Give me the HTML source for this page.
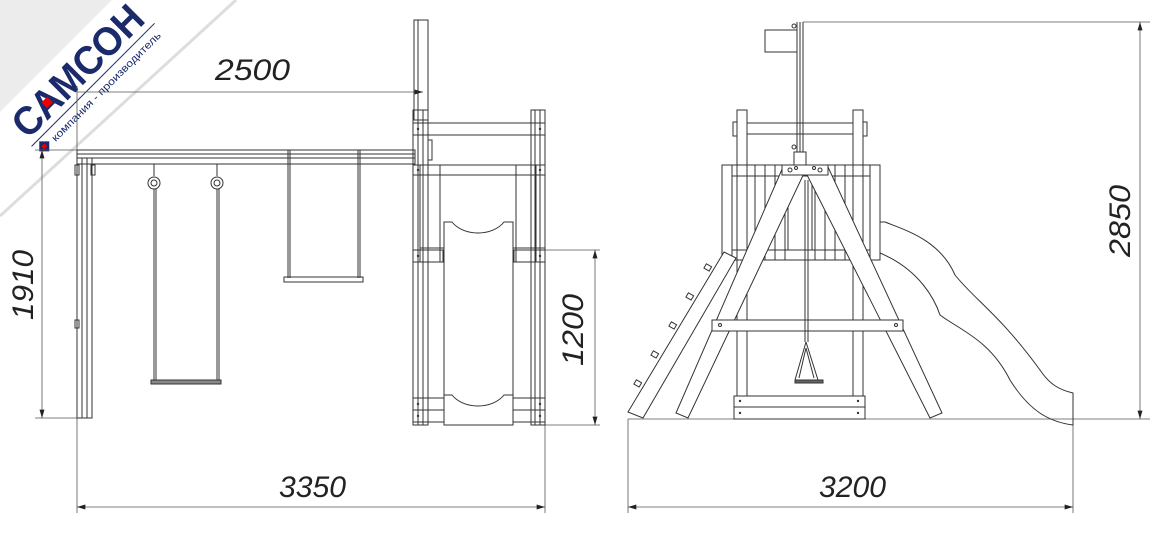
<!DOCTYPE html>
<html><head><meta charset="utf-8"><style>
html,body{margin:0;padding:0;background:#fff;width:1165px;height:537px;overflow:hidden}
svg{display:block}
.d{font-family:"Liberation Sans",sans-serif;font-style:italic;font-size:30px;fill:#222}
</style></head><body>
<svg width="1165" height="537" viewBox="0 0 1165 537" xmlns="http://www.w3.org/2000/svg">
<defs>
<marker id="a" viewBox="0 0 10 6" refX="10" refY="3" markerWidth="14" markerHeight="5" orient="auto-start-reverse" markerUnits="userSpaceOnUse"><path d="M0,0 L10,3 L0,6 z" fill="#222"/></marker>
</defs>
<polygon points="0,0 112,0 0,112" fill="#ececec"/>
<polygon points="112,0 236,0 0,216 0,112" fill="#fff"/>
<line x1="236" y1="0" x2="0" y2="216" stroke="#ddd" stroke-width="3"/>
<g transform="translate(28,140) rotate(-45)">
<text x="0" y="0" font-family="Liberation Sans,sans-serif" font-weight="bold" font-size="40" fill="#1b2a6b" textLength="168" lengthAdjust="spacingAndGlyphs">САМСОН</text>
<rect x="36" y="-17" width="8" height="8" fill="#e00"/>
<line x1="-2" y1="7" x2="172" y2="7" stroke="#1b2a6b" stroke-width="1"/>
<rect x="2" y="11" width="10" height="10" fill="#1b2a6b" transform="rotate(45 7 16)"/>
<rect x="5" y="14" width="4" height="4" fill="#e00"/>
<text x="18" y="21" font-family="Liberation Sans,sans-serif" font-size="10.5" fill="#1b2a6b" textLength="150" lengthAdjust="spacingAndGlyphs">компания - производитель</text>
</g>

<g fill="none" stroke="#333" stroke-width="1">
<g stroke="#555" stroke-width="0.8">
<line x1="77" y1="86" x2="77" y2="150"/>
<line x1="77" y1="92" x2="423" y2="92" marker-end="url(#a)"/>
<line x1="35" y1="150" x2="77" y2="150"/>
<line x1="35" y1="418" x2="77" y2="418"/>
<line x1="42" y1="150" x2="42" y2="418" marker-start="url(#a)" marker-end="url(#a)"/>
<line x1="77" y1="418" x2="77" y2="513"/>
<line x1="545" y1="425" x2="545" y2="513"/>
<line x1="77" y1="507" x2="545" y2="507" marker-start="url(#a)" marker-end="url(#a)"/>
<line x1="545" y1="250" x2="600" y2="250"/>
<line x1="545" y1="425" x2="600" y2="425"/>
<line x1="595" y1="250" x2="595" y2="425" marker-start="url(#a)" marker-end="url(#a)"/>
</g>
<rect x="77" y="150" width="338" height="14"/>
<line x1="77" y1="154" x2="415" y2="154"/>
<line x1="77" y1="158" x2="415" y2="158"/>
<rect x="77" y="158" width="15" height="260"/>
<line x1="82" y1="158" x2="82" y2="418"/><line x1="87" y1="158" x2="87" y2="418"/>
<rect x="75" y="165" width="4" height="10"/><rect x="91" y="165" width="4" height="10"/>
<rect x="75" y="320" width="4" height="8"/>
<line x1="154" y1="164" x2="154" y2="176"/><circle cx="154" cy="183" r="6"/><circle cx="154" cy="183" r="3"/>
<line x1="217" y1="164" x2="217" y2="176"/><circle cx="217" cy="183" r="6"/><circle cx="217" cy="183" r="3"/>
<line x1="154" y1="189" x2="154" y2="380"/><line x1="156" y1="189" x2="156" y2="380"/>
<line x1="217" y1="189" x2="217" y2="380"/><line x1="219" y1="189" x2="219" y2="380"/>
<rect x="151" y="380" width="70" height="4" fill="#888"/>
<line x1="288" y1="150" x2="288" y2="278"/><line x1="290" y1="150" x2="290" y2="278"/>
<line x1="358" y1="150" x2="358" y2="278"/><line x1="360" y1="150" x2="360" y2="278"/>
<rect x="284" y="277" width="79" height="5"/>
<rect x="414" y="20" width="14" height="100"/><line x1="418" y1="20" x2="418" y2="120"/>
<rect x="413" y="110" width="15" height="315"/>
<line x1="418" y1="110" x2="418" y2="425"/><line x1="423" y1="110" x2="423" y2="425"/>
<rect x="531" y="110" width="14" height="315"/>
<line x1="535" y1="110" x2="535" y2="425"/><line x1="540" y1="110" x2="540" y2="425"/>
<rect x="413" y="123" width="132" height="12"/>
<rect x="413" y="165" width="132" height="10"/>
<rect x="420" y="165" width="20" height="97"/><rect x="516" y="165" width="20" height="97"/>
<rect x="413" y="250" width="30" height="12"/><rect x="514" y="250" width="31" height="12"/>
<line x1="420" y1="248" x2="545" y2="248"/>
<rect x="413" y="398" width="132" height="12"/><rect x="413" y="410" width="132" height="12"/>
<rect x="428" y="140" width="4" height="20"/>
<path d="M444,425 L444,222 L452,222 A30,22 0 0 0 504,222 L513,222 L513,425 Z" fill="#fff"/>
<path d="M444,395 L452,395 A30,22 0 0 0 504,395 L513,395"/>

<g stroke="#555" stroke-width="0.8">
<line x1="803" y1="22" x2="1150" y2="22"/>
<line x1="628" y1="419" x2="1150" y2="419"/>
<line x1="1140" y1="22" x2="1140" y2="419" marker-start="url(#a)" marker-end="url(#a)"/>
<line x1="628" y1="419" x2="628" y2="513"/>
<line x1="1073" y1="425" x2="1073" y2="513"/>
<line x1="628" y1="507" x2="1073" y2="507" marker-start="url(#a)" marker-end="url(#a)"/>
</g>
<rect x="765" y="30" width="32" height="22"/>
<line x1="797" y1="22" x2="797" y2="162"/><line x1="800" y1="22" x2="800" y2="162"/><line x1="803" y1="22" x2="803" y2="162"/>
<circle cx="794" cy="26" r="2"/><circle cx="794" cy="147" r="2"/>
<rect x="737" y="110" width="10" height="290"/>
<rect x="853" y="110" width="10" height="290"/>
<rect x="733" y="122" width="4" height="14"/><rect x="863" y="122" width="4" height="14"/>
<rect x="747" y="123" width="106" height="11"/>
<rect x="722" y="165" width="10" height="95"/><rect x="870" y="165" width="10" height="95"/>
<rect x="732" y="165" width="138" height="95"/>
<line x1="732" y1="176" x2="870" y2="176"/><line x1="732" y1="250" x2="870" y2="250"/>
<rect x="755" y="165" width="10" height="95"/><rect x="775" y="165" width="10" height="95"/>
<rect x="815" y="165" width="10" height="95"/><rect x="835" y="165" width="10" height="95"/>
<line x1="788" y1="176" x2="788" y2="250"/><line x1="812" y1="176" x2="812" y2="250"/>
<polygon points="783,167 807,167 688,418 676,413" fill="#fff"/>
<polygon points="803,167 828,167 942,413 930,418" fill="#fff"/>
<rect x="782" y="165" width="46" height="10" fill="#fff"/>
<rect x="794" y="152" width="12" height="13" fill="#fff"/>
<circle cx="790" cy="170" r="2"/><circle cx="820" cy="170" r="2"/>
<circle cx="796" cy="168" r="1.5"/><circle cx="814" cy="168" r="1.5"/>
<rect x="712" y="320" width="191" height="11" fill="#fff"/>
<circle cx="720" cy="325" r="1.5"/><circle cx="896" cy="325" r="1.5"/>
<line x1="805" y1="180" x2="805" y2="342"/><line x1="808" y1="180" x2="808" y2="342"/>
<path d="M806,342 L795,380 M806,342 L818,380 M806,348 L799,378 M806,348 L814,378"/>
<rect x="795" y="380" width="28" height="3" fill="#666"/>
<!-- ladder plank -->
<polygon points="724,252 736,258 643,418 628,412" fill="#fff"/>
<rect x="705" y="265" width="6" height="5" transform="rotate(30 708 267)"/>
<rect x="687" y="294" width="6" height="5" transform="rotate(30 690 296)"/>
<rect x="670" y="323" width="6" height="5" transform="rotate(30 673 325)"/>
<rect x="652" y="352" width="6" height="5" transform="rotate(30 655 354)"/>
<rect x="635" y="381" width="6" height="5" transform="rotate(30 638 383)"/>
<rect x="734" y="396" width="131" height="11" fill="#fff"/><rect x="734" y="407" width="131" height="12" fill="#fff"/>
<path d="M880,222 L885,222 C905,230 940,240 955,275 C975,300 1000,315 1040,370 C1050,385 1060,390 1073,393 L1073,425 C1050,422 1030,412 1010,380 C990,340 960,330 940,315 C935,300 920,270 880,253"/>
</g>
<g fill="#333">
<circle cx="418" cy="129" r="1.2"/><circle cx="540" cy="129" r="1.2"/>
<circle cx="418" cy="170" r="1.2"/><circle cx="540" cy="170" r="1.2"/>
<circle cx="418" cy="256" r="1.2"/><circle cx="540" cy="256" r="1.2"/>
<circle cx="418" cy="404" r="1.2"/><circle cx="540" cy="404" r="1.2"/>
<circle cx="418" cy="416" r="1.2"/><circle cx="540" cy="416" r="1.2"/>
<circle cx="740" cy="401" r="1.2"/><circle cx="858" cy="401" r="1.2"/>
<circle cx="740" cy="413" r="1.2"/><circle cx="858" cy="413" r="1.2"/>
</g>
<text class="d" x="215" y="80" textLength="75" lengthAdjust="spacingAndGlyphs">2500</text>
<text class="d" x="279" y="497" textLength="67" lengthAdjust="spacingAndGlyphs">3350</text>
<text class="d" x="819" y="497" textLength="67" lengthAdjust="spacingAndGlyphs">3200</text>
<text class="d" transform="translate(33,320) rotate(-90)" textLength="70" lengthAdjust="spacingAndGlyphs">1910</text>
<text class="d" transform="translate(583,366) rotate(-90)" textLength="72" lengthAdjust="spacingAndGlyphs">1200</text>
<text class="d" transform="translate(1130,257) rotate(-90)" textLength="72" lengthAdjust="spacingAndGlyphs">2850</text>
</svg>
</body></html>
